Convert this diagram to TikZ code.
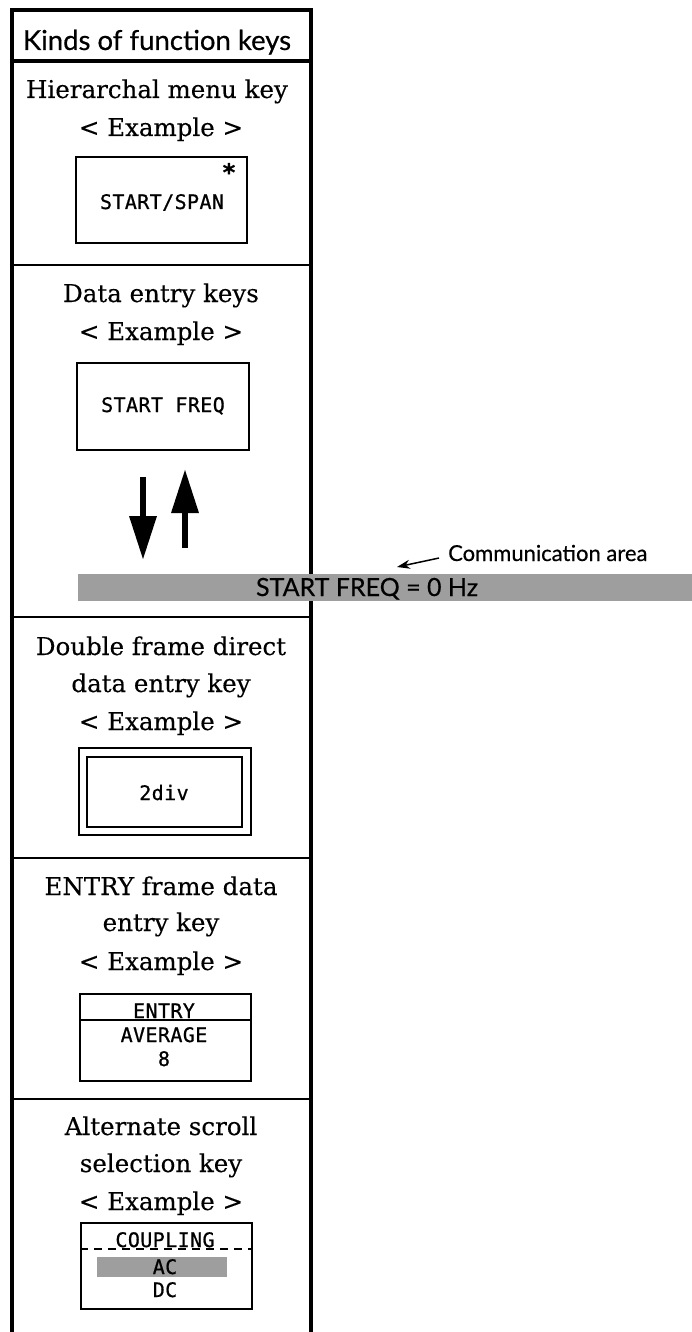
\documentclass[tikz,border=0pt]{standalone}
\usepackage{fontspec}
\setmainfont[FakeBold=0.3]{DejaVu Serif}
\newfontfamily\titlefont[FakeBold=0.5]{Lato}
\newfontfamily\keyfont[LetterSpace=2,FakeBold=0.8]{DejaVu Sans Mono}
\usetikzlibrary{arrows.meta}
\begin{document}
\begin{tikzpicture}[x=1pt,y=-1pt,
  frameline/.style={line width=3.2pt},
  sepline/.style={line width=2pt},
  heading/.style={font=\fontsize{24.5}{28}\selectfont, anchor=base, inner sep=0pt},
  keybox/.style={draw, line width=1.8pt, inner sep=0pt},
  keytext/.style={font=\keyfont\fontsize{20}{22}\selectfont, anchor=base, inner sep=0pt},
  sanstext/.style={font=\titlefont\fontsize{#1}{#1}\selectfont, inner sep=0pt},
  bigarrow/.style={line width=6.5pt, -{Triangle[length=44pt,width=26pt]}},
  shade/.style={fill=black!38, inner sep=0pt},
]
\useasboundingbox (0,0) rectangle (692,1332);
% outer frame
\draw[frameline] (12,1332) -- (12,10) -- (311,10) -- (311,574);
\draw[frameline] (311,601) -- (311,1332);
\draw[frameline] (12,61) -- (311,61);
\draw[sepline] (12,265) -- (311,265);
\draw[sepline] (12,617) -- (311,617);
\draw[sepline] (12,858) -- (311,858);
\draw[sepline] (12,1099) -- (311,1099);
% title
\node[sanstext=27.5, anchor=base] (title) at (157,50) {Kinds of function keys};
% section 1
\node[heading] (h1a) at (157,98) {Hierarchal menu key};
\node[heading] (h1b) at (161,136) {< Example >};
\node[keybox, minimum width=171pt, minimum height=86pt] (k1) at (161.5,200) {};
\node[keytext] (k1t) at (162,209) {START/SPAN};
\node[font=\keyfont\bfseries\fontsize{24}{24}\selectfont, inner sep=0pt] (k1s) at (229,172) {*};
% section 2
\node[heading] (h2a) at (161,302) {Data entry keys};
\node[heading] (h2b) at (161,340) {< Example >};
\node[keybox, minimum width=172pt, minimum height=87pt] (k2) at (163,406.5) {};
\node[keytext] (k2t) at (163,412) {START FREQ};
\coordinate (dtop) at (143,477);
\coordinate (dtip) at (143,560);
\coordinate (ubot) at (185,548);
\coordinate (utip) at (185,469);
\draw[bigarrow] (dtop) -- (dtip);
\draw[bigarrow] (ubot) -- (utip);
% communication band
\node[shade, minimum width=614pt, minimum height=27pt] (band) at (385,587.5) {};
\node[sanstext=25, anchor=base] (bandt) at (367,596) {START FREQ = 0 Hz};
\node[sanstext=22, anchor=base west] (comm) at (448,561) {Communication area};
\coordinate (ctip) at (397,567);
\draw[line width=1.5pt, -{Stealth[length=13pt,width=9pt]}] ([xshift=-9pt,yshift=-5pt]comm.west) -- (ctip);
% section 3
\node[heading] (h3a) at (161,655) {Double frame direct};
\node[heading] (h3b) at (161,692) {data entry key};
\node[heading] (h3c) at (161,730) {< Example >};
\node[draw, line width=1.5pt, minimum width=172pt, minimum height=87pt, inner sep=0pt] (k3o) at (165,791.5) {};
\node[draw, line width=2.8pt, minimum width=155pt, minimum height=70pt, inner sep=0pt] (k3i) at (164.5,792) {};
\node[keytext] (k3t) at (164,800) {2div};
% section 4
\node[heading] (h4a) at (161,895) {ENTRY frame data};
\node[heading] (h4b) at (161,931) {entry key};
\node[heading] (h4c) at (161,970) {< Example >};
\node[keybox, minimum width=171pt, minimum height=87pt] (k4) at (165.5,1037.5) {};
\draw[line width=2pt] ([yshift=-27pt]k4.north west) -- ([yshift=-27pt]k4.north east);
\node[keytext] (k4a) at (164,1018) {ENTRY};
\node[keytext] (k4b) at (164,1042) {AVERAGE};
\node[keytext] (k4c) at (164,1066) {8};
% section 5
\node[heading] (h5a) at (161,1135) {Alternate scroll};
\node[heading] (h5b) at (161,1172) {selection key};
\node[heading] (h5c) at (161,1210) {< Example >};
\node[keybox, minimum width=171pt, minimum height=86pt] (k5) at (166.5,1266) {};
\draw[line width=2pt, dash pattern=on 8pt off 6pt] ([yshift=-27pt]k5.north west) -- ([yshift=-27pt]k5.north east);
\node[shade, minimum width=130pt, minimum height=20pt] (acband) at (162,1267) {};
\node[keytext] (k5a) at (165,1247) {COUPLING};
\node[keytext] (k5b) at (165,1274) {AC};
\node[keytext] (k5c) at (165,1297) {DC};
\end{tikzpicture}
\end{document}
